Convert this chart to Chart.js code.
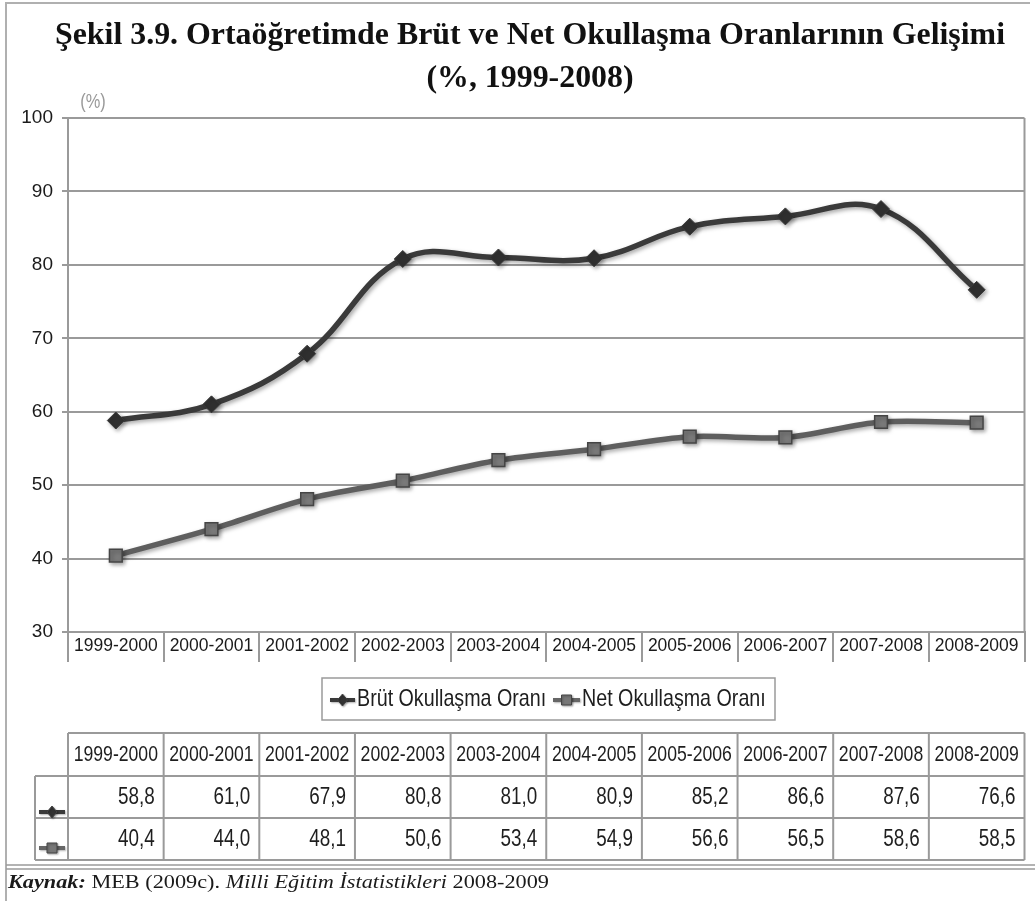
<!DOCTYPE html>
<html>
<head>
<meta charset="utf-8">
<script src="https://cdn.jsdelivr.net/npm/chart.js@4.4.1/dist/chart.umd.min.js"></script>
<style>
  html, body { margin: 0; padding: 0; background: #fff; }
  #wrap { width: 1035px; height: 901px; position: relative; }
</style>
</head>
<body>
<div id="wrap"><canvas id="c"></canvas></div>
<script>
const categories = ['1999-2000','2000-2001','2001-2002','2002-2003','2003-2004','2004-2005','2005-2006','2006-2007','2007-2008','2008-2009'];
const brutValues = [58.8, 61.0, 67.9, 80.8, 81.0, 80.9, 85.2, 86.6, 87.6, 76.6];
const netValues  = [40.4, 44.0, 48.1, 50.6, 53.4, 54.9, 56.6, 56.5, 58.6, 58.5];
const seriesNames = ['Brüt Okullaşma Oranı', 'Net Okullaşma Oranı'];
const titleLines = ['Şekil 3.9. Ortaöğretimde Brüt ve Net Okullaşma Oranlarının Gelişimi', '(%, 1999-2008)'];
const unitLabel = '(%)';
const yMin = 30, yMax = 100, yStep = 10;

function hasFont(name) {
  const c = document.createElement('canvas').getContext('2d');
  c.font = '40px monospace';
  const w1 = c.measureText('abcdefgh1999Ok').width;
  c.font = '40px "' + name + '", monospace';
  const w2 = c.measureText('abcdefgh1999Ok').width;
  return Math.abs(w1 - w2) > 0.5;
}
const HAS_NARROW = hasFont('Liberation Sans Narrow');
const NF = HAS_NARROW ? '"Liberation Sans Narrow", "Liberation Sans", sans-serif' : '"Liberation Sans", Arial, sans-serif';
const NSCALE = HAS_NARROW ? 1 : 0.82;
const GRID = '#9a9a9a';

function narrowText(ctx, text, x, y, size, align, color) {
  ctx.save();
  ctx.font = size + 'px ' + NF;
  ctx.fillStyle = color || '#1e1e1e';
  ctx.textBaseline = 'middle';
  ctx.textAlign = align;
  ctx.translate(x, y);
  ctx.scale(NSCALE, 1);
  ctx.fillText(text, 0, 0);
  ctx.restore();
}
function drawKey(ctx, x0, x1, y, type) {
  ctx.save();
  ctx.shadowColor = 'rgba(0,0,0,0.3)'; ctx.shadowBlur = 2; ctx.shadowOffsetX = 1; ctx.shadowOffsetY = 1;
  ctx.strokeStyle = type === 0 ? '#3a3a3a' : '#666';
  ctx.lineWidth = 4;
  ctx.beginPath(); ctx.moveTo(x0, y); ctx.lineTo(x1, y); ctx.stroke();
  const cx = (x0 + x1) / 2;
  ctx.fillStyle = type === 0 ? '#333' : '#777';
  ctx.strokeStyle = '#444'; ctx.lineWidth = 1;
  ctx.beginPath();
  if (type === 0) { ctx.moveTo(cx, y - 6); ctx.lineTo(cx + 5, y); ctx.lineTo(cx, y + 6); ctx.lineTo(cx - 5, y); ctx.closePath(); }
  else { ctx.rect(cx - 5, y - 5, 10, 10); }
  ctx.fill(); ctx.stroke();
  ctx.restore();
}

const shadowPlugin = {
  id: 'shadow',
  beforeDatasetDraw(chart) {
    const ctx = chart.ctx; ctx.save();
    ctx.shadowColor = 'rgba(0,0,0,0.35)'; ctx.shadowBlur = 4; ctx.shadowOffsetX = 2; ctx.shadowOffsetY = 2;
  },
  afterDatasetDraw(chart) { chart.ctx.restore(); }
};

const decorPlugin = {
  id: 'decor',
  afterDraw(chart) {
    const ctx = chart.ctx;
    const a = chart.chartArea;
    const xs = chart.scales.x;
    ctx.save();
    // frame
    ctx.strokeStyle = '#b0b0b0'; ctx.lineWidth = 2;
    ctx.beginPath(); ctx.moveTo(6, 901); ctx.lineTo(6, 3); ctx.lineTo(1030, 3); ctx.stroke();
    ctx.strokeStyle = '#9a9a9a'; ctx.lineWidth = 1.5;
    ctx.beginPath(); ctx.moveTo(6, 865); ctx.lineTo(1035, 865); ctx.moveTo(6, 869); ctx.lineTo(1035, 869); ctx.stroke();
    // right border of plot
    ctx.strokeStyle = GRID; ctx.lineWidth = 2;
    ctx.beginPath(); ctx.moveTo(a.right, a.top); ctx.lineTo(a.right, a.bottom); ctx.stroke();

    // title
    ctx.fillStyle = '#111';
    ctx.font = 'bold 31px "Liberation Serif", "DejaVu Serif", serif';
    ctx.textBaseline = 'middle'; ctx.textAlign = 'center';
    const w = ctx.measureText(titleLines[0]).width;
    const sx = 950 / w;
    [[titleLines[0], 36], [titleLines[1], 79]].forEach(([t, y]) => {
      ctx.save(); ctx.translate(530, y); ctx.scale(sx, 1); ctx.fillText(t, 0, 0); ctx.restore();
    });

    // unit label
    narrowText(ctx, unitLabel, 93, 102, 20, 'center', '#9a9a9a');

    // legend
    ctx.strokeStyle = GRID; ctx.lineWidth = 1.5;
    ctx.strokeRect(322, 678, 453, 42);
    drawKey(ctx, 330, 355, 700, 0);
    narrowText(ctx, seriesNames[0], 357, 699, 24, 'left');
    drawKey(ctx, 553, 580, 700, 1);
    narrowText(ctx, seriesNames[1], 582, 699, 24, 'left');

    // data table
    const half = (xs.getPixelForValue(1) - xs.getPixelForValue(0)) / 2;
    const left = xs.getPixelForValue(0) - half;
    const right = xs.getPixelForValue(categories.length - 1) + half;
    const rows = [733, 776, 818, 860];
    ctx.strokeStyle = GRID; ctx.lineWidth = 2;
    ctx.beginPath();
    ctx.moveTo(left, rows[0]); ctx.lineTo(right, rows[0]);
    ctx.moveTo(35, rows[1]); ctx.lineTo(right, rows[1]);
    ctx.moveTo(35, rows[2]); ctx.lineTo(right, rows[2]);
    ctx.moveTo(35, rows[3]); ctx.lineTo(right, rows[3]);
    ctx.moveTo(35, rows[1]); ctx.lineTo(35, rows[3]);
    for (let i = 0; i <= categories.length; i++) {
      const x = left + i * 2 * half;
      ctx.moveTo(x, rows[0]); ctx.lineTo(x, rows[3]);
    }
    ctx.stroke();
    const fmt = v => v.toFixed(1).replace('.', ',');
    categories.forEach((c, i) => {
      const cx = xs.getPixelForValue(i);
      narrowText(ctx, c, cx, 755, 21.5, 'center');
      narrowText(ctx, fmt(brutValues[i]), cx + half - 9, 798, 23, 'right');
      narrowText(ctx, fmt(netValues[i]), cx + half - 9, 840, 23, 'right');
    });
    drawKey(ctx, 39, 65, 812, 0);
    drawKey(ctx, 39, 65, 848, 1);

    // source
    const parts = [
      ['bold italic 18px "Liberation Serif", serif', 'Kaynak:'],
      ['18px "Liberation Serif", serif', ' MEB (2009c). '],
      ['italic 18px "Liberation Serif", serif', 'Milli Eğitim İstatistikleri'],
      ['18px "Liberation Serif", serif', ' 2008-2009']
    ];
    let tw = 0;
    parts.forEach(p => { ctx.font = p[0]; tw += ctx.measureText(p[1]).width; });
    const ss = 541 / tw;
    ctx.save(); ctx.translate(8, 883); ctx.scale(ss, 1);
    ctx.textAlign = 'left'; ctx.textBaseline = 'middle'; ctx.fillStyle = '#1a1a1a';
    let x = 0;
    parts.forEach(p => { ctx.font = p[0]; ctx.fillText(p[1], x, 0); x += ctx.measureText(p[1]).width; });
    ctx.restore();
    ctx.restore();
  }
};

new Chart(document.getElementById('c'), {
  type: 'line',
  data: {
    labels: categories,
    datasets: [
      {
        label: seriesNames[0], data: brutValues,
        borderColor: '#3a3a3a', borderWidth: 5.5, tension: 0.4,
        pointStyle: 'rectRot', pointRadius: 8.5, pointHoverRadius: 8.5,
        pointBackgroundColor: '#303030', pointBorderColor: '#3a3a3a', pointBorderWidth: 1
      },
      {
        label: seriesNames[1], data: netValues,
        borderColor: '#5e5e5e', borderWidth: 5.5, tension: 0.3,
        pointStyle: 'rect', pointRadius: 9, pointHoverRadius: 9,
        pointBackgroundColor: '#7a7a7a', pointBorderColor: '#454545', pointBorderWidth: 1.5
      }
    ]
  },
  options: {
    responsive: true, maintainAspectRatio: false, animation: false,
    layout: { padding: { left: 0, right: 7, top: 118, bottom: 0 } },
    plugins: { legend: { display: false }, title: { display: false }, tooltip: { enabled: false } },
    scales: {
      x: {
        afterFit(s) { s.height = 901 - 632; },
        offset: true,
        grid: { offset: true, drawOnChartArea: false, drawTicks: true, tickLength: 30, color: GRID, lineWidth: 2 },
        border: { display: true, color: GRID, width: 2 },
        ticks: {
          autoSkip: false, maxRotation: 0, minRotation: 0, padding: -26,
          color: '#1a1a1a', font: { family: NF, size: HAS_NARROW ? 20 : 17.5 }
        }
      },
      y: {
        min: yMin, max: yMax,
        afterFit(s) { s.width = 68; },
        grid: { color: GRID, lineWidth: 2, drawTicks: true, tickLength: 6, tickColor: GRID },
        border: { display: true, color: GRID, width: 2 },
        ticks: {
          stepSize: yStep, padding: 9, color: '#1a1a1a',
          font: { family: NF, size: HAS_NARROW ? 20 : 19 }
        }
      }
    }
  },
  plugins: [shadowPlugin, decorPlugin]
});
</script>
</body>
</html>
